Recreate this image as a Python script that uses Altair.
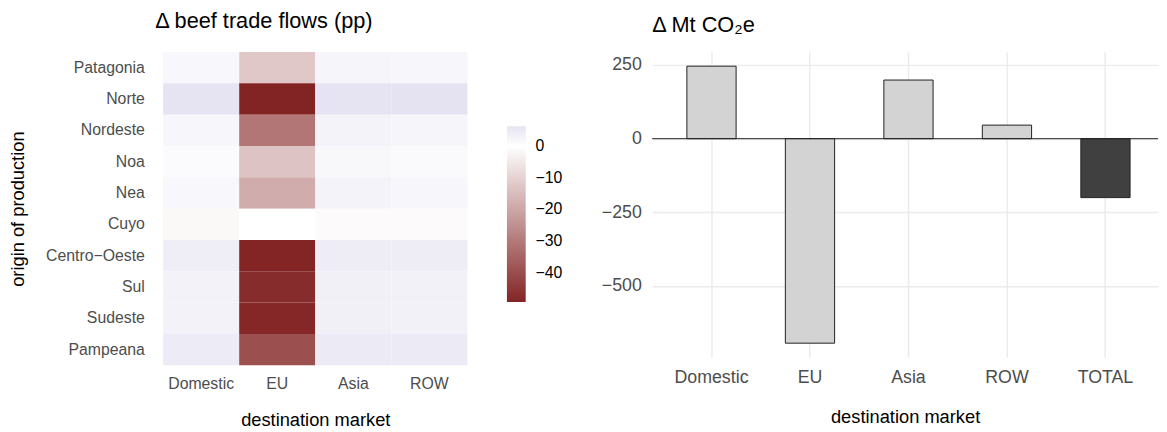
import altair as alt
import pandas as pd

# ---- data: heatmap (change in beef trade flows, pp) ----
regions = ["Patagonia", "Norte", "Nordeste", "Noa", "Nea", "Cuyo",
           "Centro−Oeste", "Sul", "Sudeste", "Pampeana"]
markets = ["Domestic", "EU", "Asia", "ROW"]
domestic = [1.75, 6.0, 2.0, 0.95, 1.75, -1.5, 3.9, 2.9, 2.9, 4.4]
eu = [-12.3, -49.2, -30.7, -13.5, -18.7, 0.0, -48.9, -47.5, -48.6, -39.6]
asia = [2.2, 6.0, 2.75, 1.65, 2.6, -1.2, 4.1, 3.4, 3.4, 4.6]
row = [2.0, 6.25, 2.2, 1.2, 2.0, -1.2, 4.1, 3.2, 3.2, 4.6]
legend_ticks = [0, -10, -20, -30, -40]

# ---- data: bars (change in Mt CO2e) ----
bar_markets = ["Domestic", "EU", "Asia", "ROW", "TOTAL"]
emissions = [246, -694, 199, 46, -200]
bar_kind = ["part", "part", "part", "part", "total"]
y_ticks = [-500, -250, 0, 250]

cols = {"Domestic": domestic, "EU": eu, "Asia": asia, "ROW": row}
heat_df = pd.DataFrame(
    [{"region": r, "market": m, "value": cols[m][i]}
     for m in markets for i, r in enumerate(regions)]
)
bars_df = pd.DataFrame({"market": bar_markets, "value": emissions, "kind": bar_kind})
zero_df = pd.DataFrame({"y": [0]})

GREY = "#4D4D4D"

heat = alt.Chart(heat_df).mark_rect().encode(
    x=alt.X("market:N", sort=markets,
            scale=alt.Scale(paddingInner=0, paddingOuter=0),
            axis=alt.Axis(title="destination market", labelAngle=0, domain=False,
                          ticks=False, grid=False, labelPadding=11, titlePadding=19,
                          labelFontSize=16, titleFontSize=18.5, labelColor=GREY,
                          titleColor="#000", titleFontWeight="normal")),
    y=alt.Y("region:N", sort=regions,
            scale=alt.Scale(paddingInner=0, paddingOuter=0),
            axis=alt.Axis(title="origin of production", domain=False, ticks=False,
                          grid=False, labelPadding=19, titlePadding=18,
                          labelFontSize=16, titleFontSize=18.5, labelColor=GREY,
                          titleColor="#000", titleFontWeight="normal")),
    color=alt.Color("value:Q",
                    scale=alt.Scale(domain=[-49.2, 0, 6.25],
                                    range=["#832424", "#ffffff", "#E5E3F1"],
                                    interpolate="rgb"),
                    legend=alt.Legend(title=None, orient="none", legendX=348, legendY=75,
                                      direction="vertical", gradientLength=178,
                                      gradientThickness=19, gradientStrokeWidth=0,
                                      values=legend_ticks, labelFontSize=16,
                                      labelColor="#000", labelOffset=10)),
).properties(
    width=308, height=317,
    title=alt.TitleParams("Δ beef trade flows (pp)", anchor="start", frame="group",
                          fontSize=22, fontWeight="normal", dx=-8, offset=19,
                          color="#000"),
)

bars = alt.Chart(bars_df).mark_bar(stroke="#222222", strokeWidth=1).encode(
    x=alt.X("market:N", sort=bar_markets,
            scale=alt.Scale(paddingInner=0.5, paddingOuter=0.318, align=0.554),
            axis=alt.Axis(title="destination market", labelAngle=0, domain=False,
                          ticks=False, grid=True, gridColor="#EBEBEB", gridWidth=1.5,
                          bandPosition=0.5, labelPadding=11, titlePadding=22,
                          labelFontSize=18, titleFontSize=18.5, labelColor=GREY,
                          titleColor="#000", titleFontWeight="normal")),
    y=alt.Y("value:Q",
            scale=alt.Scale(domain=[-742, 294], nice=False, zero=False),
            axis=alt.Axis(title=None, values=y_ticks, domain=False, ticks=False,
                          grid=True, gridColor="#EBEBEB", gridWidth=1.5,
                          labelPadding=11, labelFontSize=18, labelColor=GREY)),
    fill=alt.Fill("kind:N", scale=alt.Scale(domain=["part", "total"],
                                            range=["#D3D3D3", "#404040"]),
                  legend=None),
)
zero = alt.Chart(zero_df).mark_rule(color="#222222", strokeWidth=1).encode(y="y:Q")

right = alt.layer(bars, zero).properties(
    width=512, height=309,
    title=alt.TitleParams("Δ Mt CO₂e", anchor="start", frame="group", fontSize=22,
                          fontWeight="normal", offset=15, color="#000"),
)

chart = alt.hconcat(heat, right, spacing=135).properties(
    padding={"left": 0, "top": 0, "right": 0, "bottom": 0}
).configure(
    font="Liberation Sans",
).configure_view(stroke=None)

chart.save("out.html", embed_options={"renderer": "svg", "actions": False})
